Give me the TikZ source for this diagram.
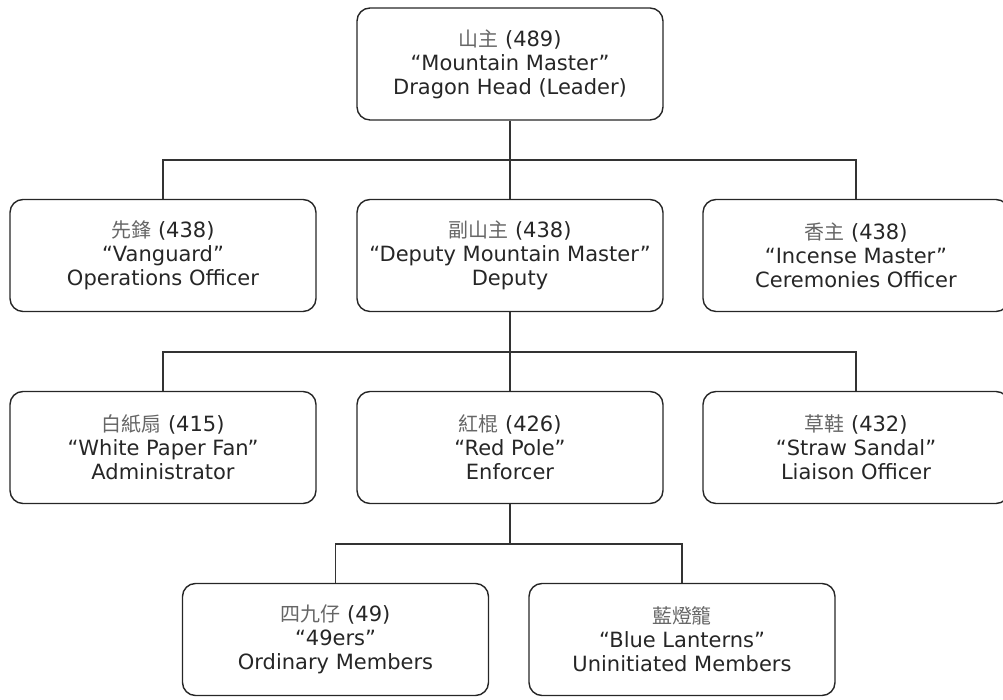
\documentclass[tikz,border=0pt]{standalone}
\usepackage{fontspec}
\setmainfont{DejaVu Sans}
\newfontfamily\cjkf{Noto Sans CJK TC}[Scale=0.95]
\newcommand{\cjk}[1]{{\cjkf\color{black!60}#1}}
\begin{document}
\begin{tikzpicture}[x=1pt,y=1pt,
  box/.style={draw=black!85, line width=1.4pt, rounded corners=13pt, minimum width=306pt, minimum height=112pt, align=center, inner sep=0pt, font=\fontsize{21}{24}\selectfont, text=black!85},
  link/.style={draw=black!80, line width=1.4pt}]
\useasboundingbox (0,0) rectangle (1003,700);
\clip (0,0) rectangle (1003,700);
\node[box] (top) at (510,636) {\cjk{山主} (489)\\“Mountain Master”\\Dragon Head (Leader)};
\node[box] (van) at (163,444.5) {\cjk{先鋒} (438)\\“Vanguard”\\Operations Officer};
\node[box] (dep) at (510,444.5) {\cjk{副山主} (438)\\“Deputy Mountain Master”\\Deputy};
\node[box] (inc) at (856,444.5) {\cjk{香主} (438)\\“Incense Master”\\Ceremonies Officer};
\node[box] (wpf) at (163,252.5) {\cjk{白紙扇} (415)\\“White Paper Fan”\\Administrator};
\node[box] (red) at (510,252.5) {\cjk{紅棍} (426)\\“Red Pole”\\Enforcer};
\node[box] (str) at (856,252.5) {\cjk{草鞋} (432)\\“Straw Sandal”\\Liaison Officer};
\node[box] (f49) at (335.5,60.5) {\cjk{四九仔} (49)\\“49ers”\\Ordinary Members};
\node[box] (blu) at (682,60.5) {\cjk{藍燈籠}\\“Blue Lanterns”\\Uninitiated Members};
\coordinate (j1) at (510,540);
\coordinate (j2) at (510,348);
\coordinate (j3) at (510,156);
\draw[link] (top.south) -- (j1);
\draw[link] (van.north) |- (j1) -| (inc.north);
\draw[link] (j1) -- (dep.north);
\draw[link] (dep.south) -- (j2);
\draw[link] (wpf.north) |- (j2) -| (str.north);
\draw[link] (j2) -- (red.north);
\draw[link] (red.south) -- (j3);
\draw[link] (f49.north) |- (j3) -| (blu.north);
\end{tikzpicture}
\end{document}
